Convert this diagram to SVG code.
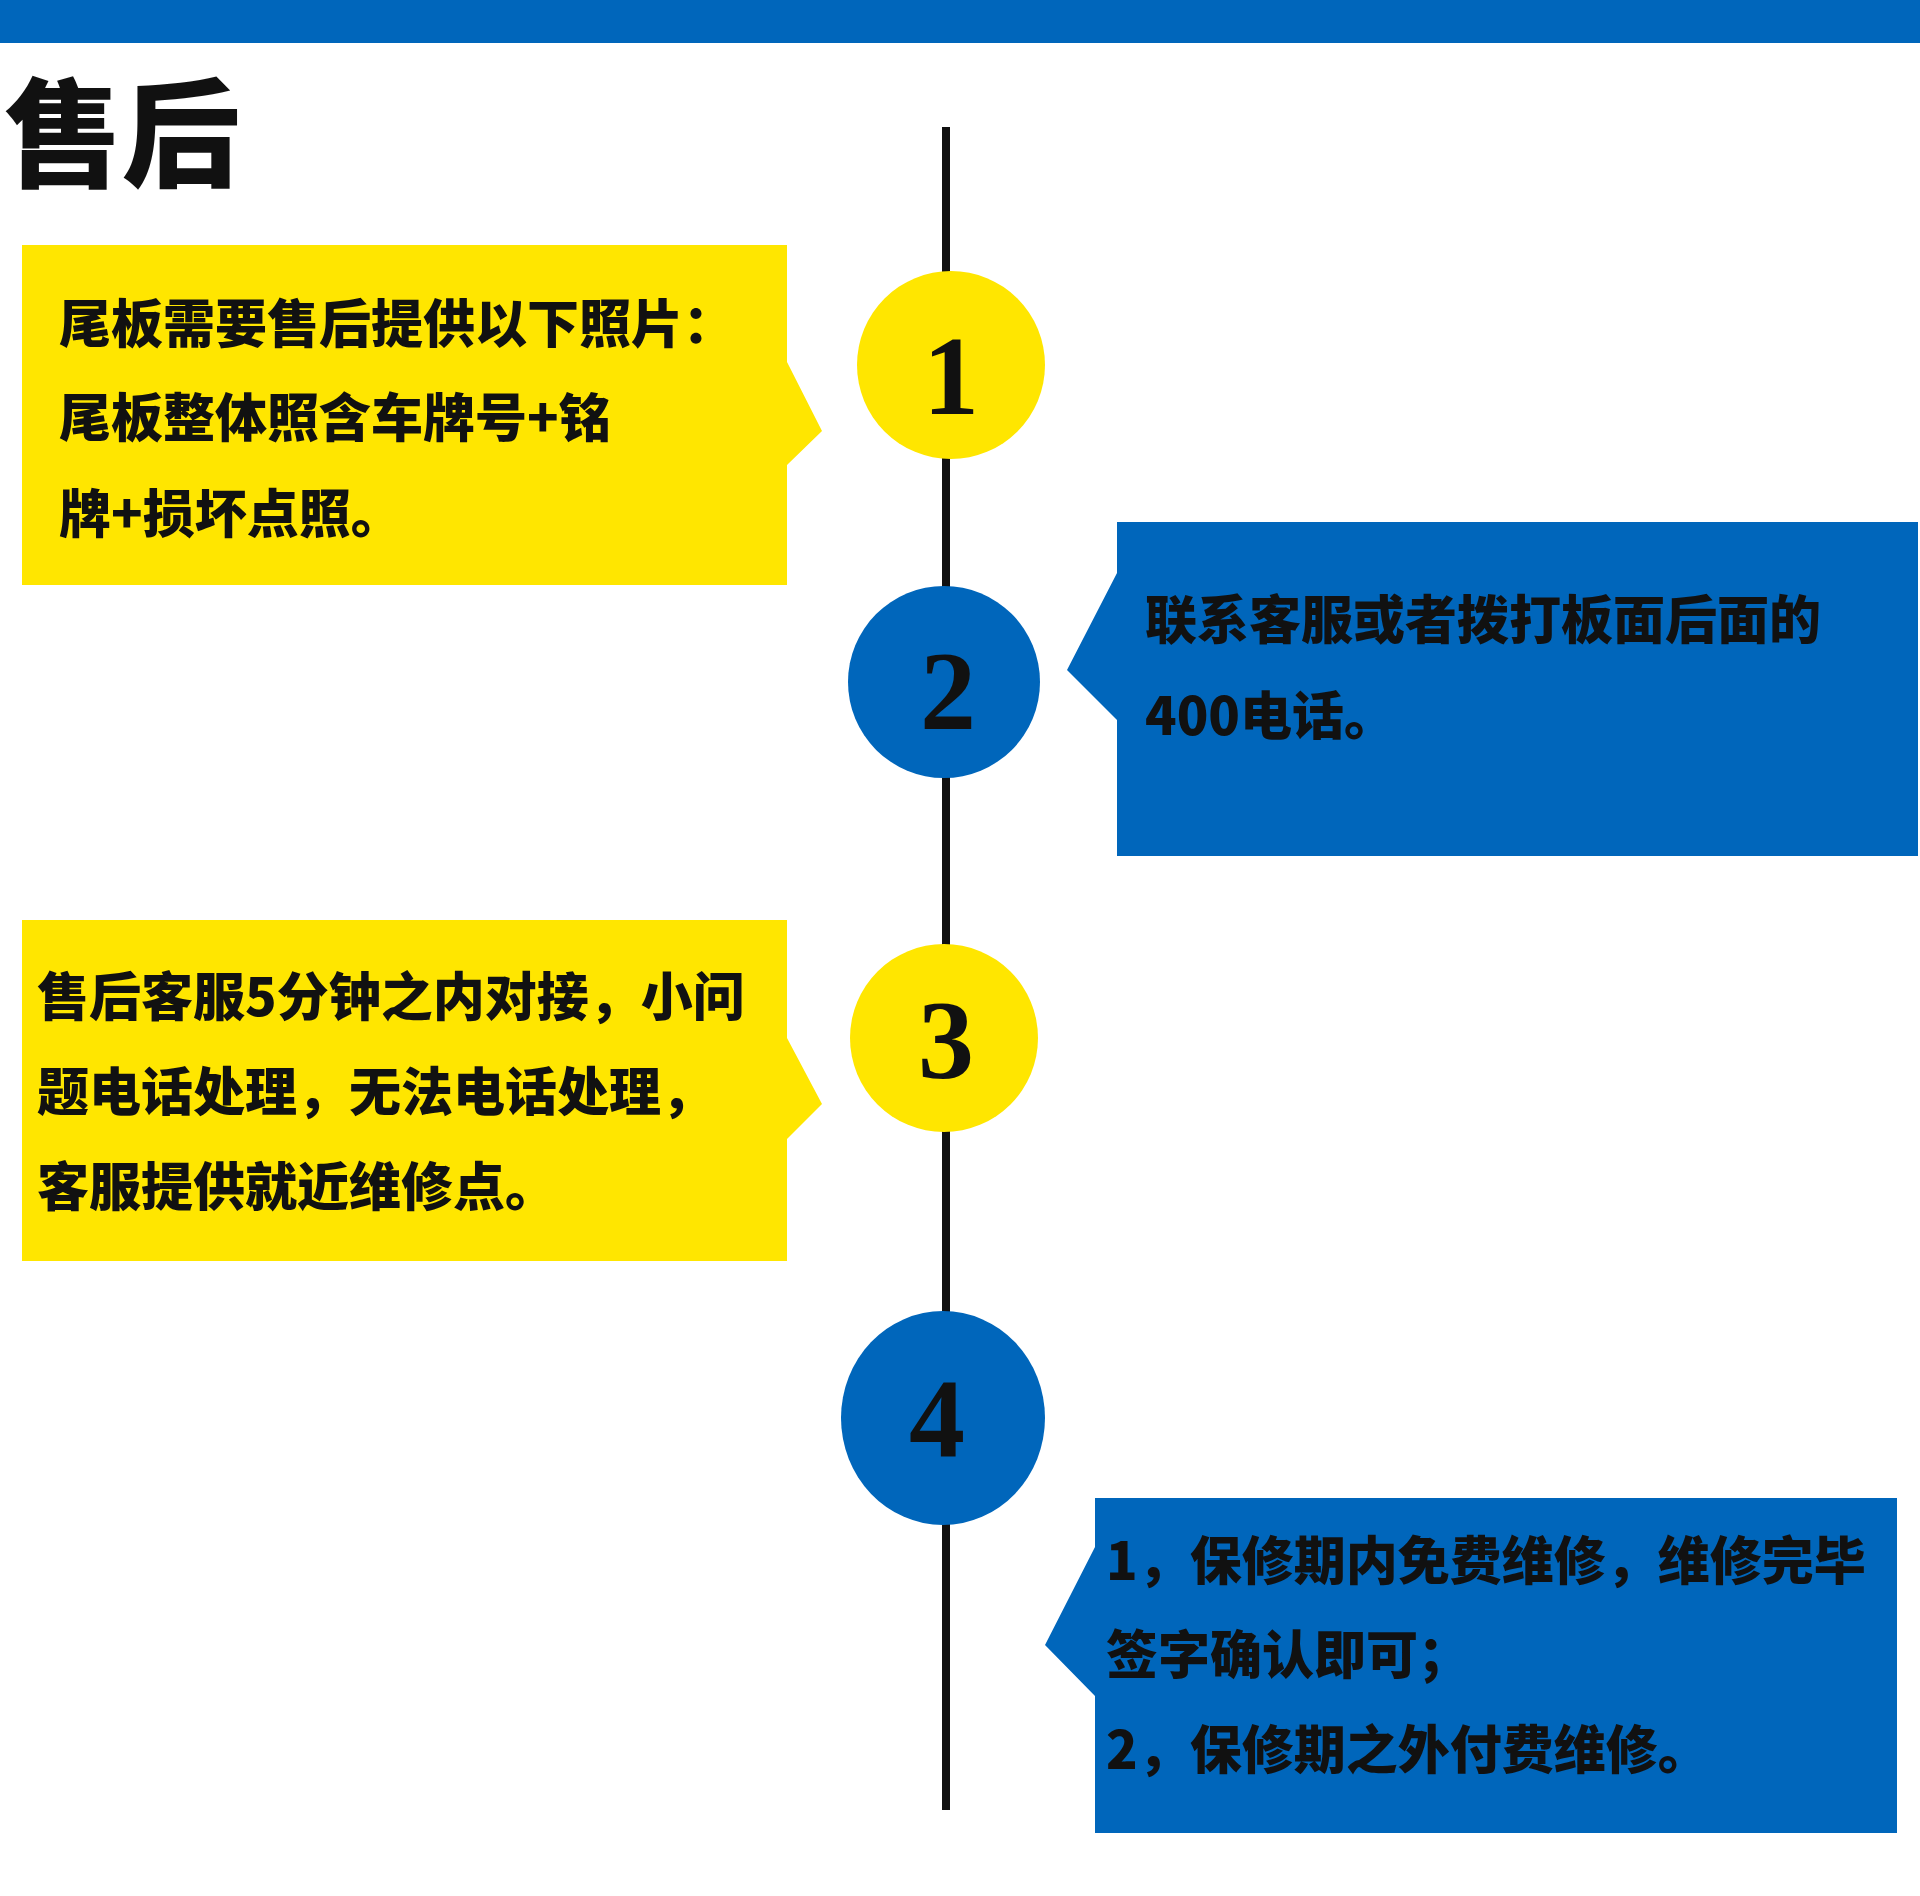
<svg xmlns="http://www.w3.org/2000/svg" width="1920" height="1896" viewBox="0 0 1920 1896">
<style>
.t{font-family:"Noto Sans CJK SC","Noto Sans",sans-serif;font-weight:900;font-size:52px;fill:#111}
.n{font-family:"Liberation Serif","DejaVu Serif",serif;font-weight:bold;font-size:112px;fill:#111;text-anchor:middle}
.y{fill:#ffe600}.b{fill:#0066bb}
</style>
<rect width="1920" height="1896" fill="#fff"/>
<rect x="0" y="0" width="1920" height="43" class="b"/>
<text x="4" y="178" style="font-family:'Noto Sans CJK SC',sans-serif;font-weight:900;font-size:118px;fill:#111">售后</text>
<g id="connectors"><line x1="946" y1="127" x2="946" y2="1810" stroke="#111" stroke-width="8"/></g>
<g id="box1"><polygon class="y" points="22,245 787,245 787,362 822,431 787,465 787,585 22,585"/>
<text class="t" x="59" y="343">尾板需要售后提供以下照片：</text>
<text class="t" x="59" y="437">尾板整体照含车牌号+铭</text>
<text class="t" x="59" y="533">牌+损坏点照。</text></g>
<g id="box2"><polygon class="b" points="1117,522 1918,522 1918,856 1117,856 1117,720 1067,670 1117,573"/>
<text class="t" x="1145" y="639">联系客服或者拨打板面后面的</text>
<text class="t" x="1145" y="735">400电话。</text></g>
<g id="box3"><polygon class="y" points="22,920 787,920 787,1038 822,1104 787,1139 787,1261 22,1261"/>
<text class="t" x="37" y="1016">售后客服5分钟之内对接，小问</text>
<text class="t" x="37" y="1111">题电话处理，无法电话处理，</text>
<text class="t" x="37" y="1206">客服提供就近维修点。</text></g>
<g id="box4"><polygon class="b" points="1095,1498 1897,1498 1897,1833 1095,1833 1095,1696 1045,1645 1095,1547"/>
<text class="t" x="1106" y="1580">1，保修期内免费维修，维修完毕</text>
<text class="t" x="1106" y="1674">签字确认即可；</text>
<text class="t" x="1106" y="1769">2，保修期之外付费维修。</text></g>
<g id="step1"><circle class="y" cx="951" cy="365" r="94"/><text class="n" x="951" y="414">1</text></g>
<g id="step2"><circle class="b" cx="944" cy="682" r="96"/><text class="n" x="948" y="729">2</text></g>
<g id="step3"><circle class="y" cx="944" cy="1038" r="94"/><text class="n" x="946" y="1078">3</text></g>
<g id="step4"><ellipse class="b" cx="943" cy="1418" rx="102" ry="107"/><text class="n" x="937" y="1457">4</text></g>
</svg>
